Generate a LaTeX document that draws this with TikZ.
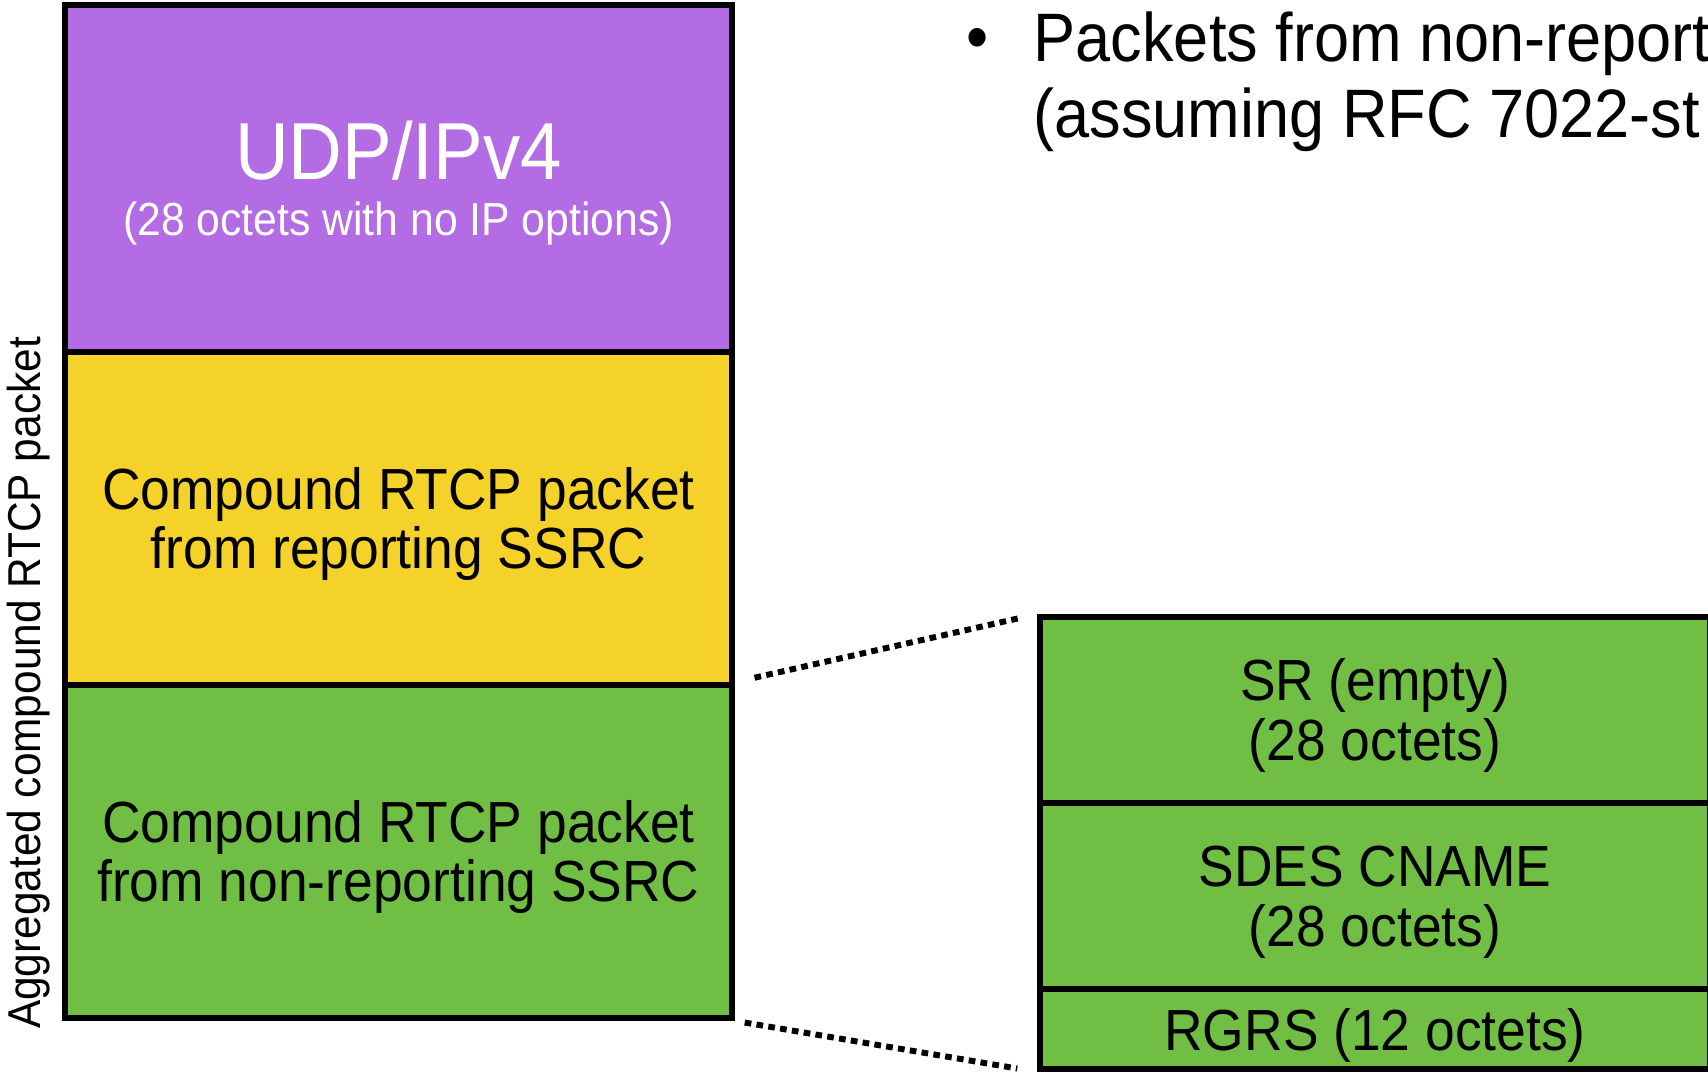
\documentclass[tikz,border=0pt]{standalone}
\usepackage{fontspec}
\setmainfont{Liberation Sans}[FakeStretch=0.92]
\definecolor{udppurple}{RGB}{179,108,227}
\definecolor{rtcpyellow}{RGB}{245,210,42}
\definecolor{rtcpgreen}{RGB}{113,190,68}
\begin{document}
\begin{tikzpicture}[x=0.01cm, y=-0.01cm,
    blk/.style={draw=black, line width=1.6pt, rectangle, inner sep=0pt,
        minimum width=6.70cm, align=center, text height=28.6pt, text depth=0pt,
        font=\fontsize{16.5}{17}\selectfont},
    zoomline/.style={line width=1.7pt, dash pattern=on 1.9pt off 1.5pt}]
    \clip (0,0) rectangle (1708,1072);
    % aggregated packet (left)
    \node[blk, fill=udppurple, text=white, minimum width=6.67cm, minimum height=3.47cm,
        text height=32.3pt]
        (udp) at (398.5,178.5) {\fontsize{23}{15.9}\selectfont UDP/IPv4\\[-1.1pt]
        \fontsize{13.2}{15.9}\selectfont (28 octets with no IP options)};
    \node[blk, fill=rtcpyellow, minimum width=6.67cm, minimum height=3.33cm]
        (rep) at (398.5,518.5) {Compound RTCP packet\\from reporting SSRC};
    \node[blk, fill=rtcpgreen, minimum width=6.67cm, minimum height=3.33cm]
        (nonrep) at (398.5,851.5) {Compound RTCP packet\\from non-reporting SSRC};
    \node[rotate=90, font=\fontsize{13.1}{14}\selectfont] (agg) at (29,683)
        {Aggregated compound RTCP packet};
    % expanded non-reporting packet (right)
    \node[blk, fill=rtcpgreen, minimum height=1.86cm] (sr) at (1375,710)
        {SR (empty)\\(28 octets)};
    \node[blk, fill=rtcpgreen, minimum height=1.86cm] (sdes) at (1375,896)
        {SDES CNAME\\(28 octets)};
    \node[blk, fill=rtcpgreen, minimum height=0.80cm, text height=12.5pt]
        (rgrs) at (1375,1029) {RGRS (12 octets)};
    % zoom lines
    \draw[zoomline, shorten <=5.7pt, shorten >=5.1pt] (nonrep.north east) -- (sr.north west);
    \draw[zoomline, shorten <=2.8pt, shorten >=5.7pt] (nonrep.south east) -- (rgrs.south west);
    % bullet text
    \node[font=\fontsize{19.5}{21}\selectfont] (dot) at (978,44) {\textbullet};
    \node[anchor=north west, align=left, inner sep=0pt,
        font=\fontsize{19.5}{21.5}\selectfont] (note) at (1033,11)
        {Packets from non-report\\(assuming RFC 7022-st};
\end{tikzpicture}
\end{document}
